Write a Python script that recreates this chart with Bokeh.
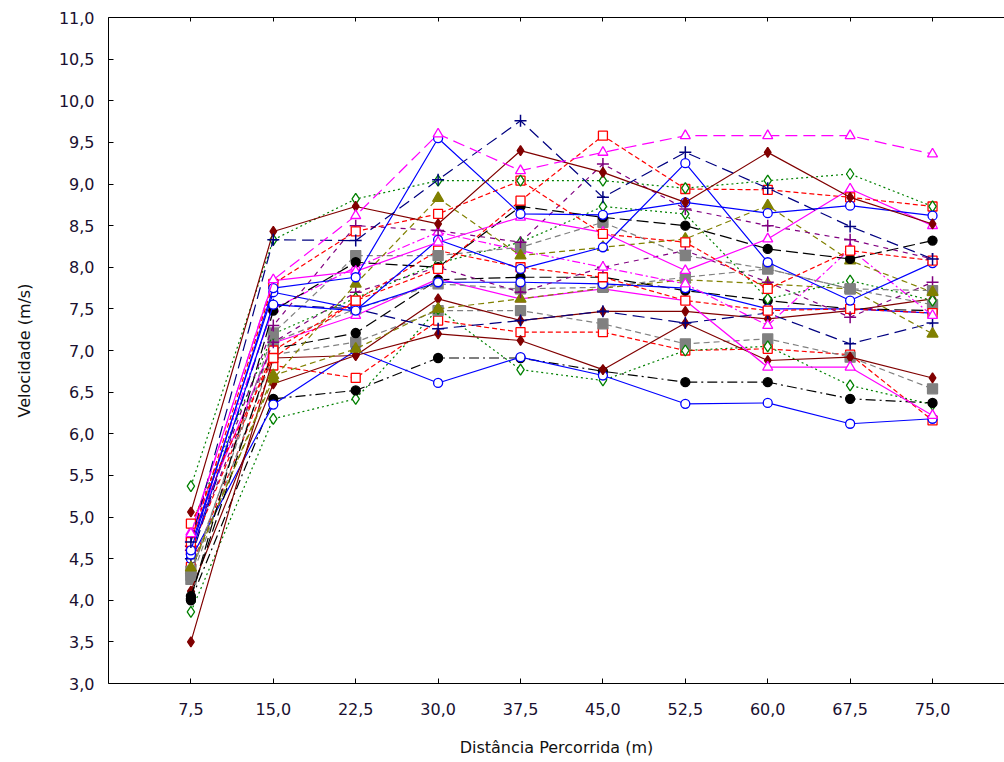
from bokeh.plotting import figure
from bokeh.models import FixedTicker, CustomJSTickFormatter, LinearAxis, Range1d, ColumnDataSource
from bokeh.embed import file_html
from bokeh.resources import INLINE

# ---- data ----
distance = [7.5, 15.0, 22.5, 30.0, 37.5, 45.0, 52.5, 60.0, 67.5, 75.0]
x_ticks = [7.5, 15.0, 22.5, 30.0, 37.5, 45.0, 52.5, 60.0, 67.5, 75.0]
y_ticks = [3.0, 3.5, 4.0, 4.5, 5.0, 5.5, 6.0, 6.5, 7.0, 7.5, 8.0, 8.5, 9.0, 9.5, 10.0, 10.5, 11.0]

magenta_1 = [4.80, 7.85, 8.62, 9.60, 9.16, 9.38, 9.58, 9.58, 9.58, 9.36]
magenta_2 = [4.82, 7.84, 7.95, 8.30, 8.60, 8.42, 7.96, 8.34, 8.94, 8.50]
magenta_3 = [4.75, 7.09, 7.42, 7.86, 7.62, 7.74, 7.60, 6.80, 6.80, 6.22]
magenta_4 = [4.78, 7.50, 8.00, 8.42, 8.20, 8.00, 7.80, 7.30, 8.22, 7.42]
navy_1 = [4.70, 8.33, 8.32, 9.05, 9.76, 8.84, 9.38, 8.95, 8.49, 8.10]
navy_2 = [4.50, 7.55, 7.50, 7.26, 7.36, 7.47, 7.33, 7.45, 7.08, 7.33]
darkred_1 = [5.06, 8.43, 8.73, 8.52, 9.40, 9.14, 8.78, 9.38, 8.84, 8.52]
darkred_2 = [4.11, 6.60, 6.94, 7.20, 7.12, 6.77, 7.33, 6.88, 6.92, 6.67]
darkred_3 = [3.50, 6.91, 6.94, 7.62, 7.36, 7.47, 7.47, 7.38, 7.48, 7.62]
blue_1 = [4.60, 7.75, 7.88, 9.55, 8.64, 8.63, 8.78, 8.65, 8.74, 8.62]
blue_2 = [4.55, 7.55, 7.48, 8.33, 7.98, 8.24, 9.25, 8.06, 7.60, 8.05]
blue_3 = [4.50, 6.35, 7.00, 6.61, 6.92, 6.70, 6.36, 6.37, 6.12, 6.18]
blue_4 = [4.65, 7.70, 7.50, 7.82, 7.82, 7.80, 7.75, 7.50, 7.50, 7.45]
black_1 = [4.02, 7.48, 8.06, 8.00, 8.73, 8.60, 8.50, 8.22, 8.10, 8.32]
black_2 = [4.05, 7.02, 7.21, 7.85, 7.88, 7.88, 7.72, 7.60, 7.50, 7.48]
black_3 = [4.00, 6.42, 6.52, 6.91, 6.91, 6.75, 6.62, 6.62, 6.42, 6.37]
green_1 = [5.37, 8.33, 8.82, 9.04, 9.04, 9.04, 8.95, 9.04, 9.12, 8.73]
green_2 = [3.86, 6.18, 6.42, 7.50, 6.77, 6.64, 7.00, 7.05, 6.58, 6.35]
green_3 = [4.90, 7.20, 7.63, 8.05, 8.30, 8.73, 8.64, 7.62, 7.84, 7.60]
red_1 = [4.92, 6.91, 7.60, 7.98, 8.80, 9.58, 8.94, 8.93, 8.84, 8.73]
red_2 = [4.70, 7.80, 8.43, 8.64, 9.04, 8.40, 8.30, 7.74, 8.20, 8.08]
red_3 = [4.40, 6.82, 6.67, 7.36, 7.22, 7.22, 7.00, 7.02, 6.95, 6.16]
red_4 = [4.60, 7.00, 7.60, 8.20, 8.00, 7.88, 7.60, 7.48, 7.50, 7.45]
gray_1 = [4.30, 7.21, 8.14, 8.14, 8.24, 8.54, 8.14, 7.98, 7.74, 7.72]
gray_2 = [4.25, 6.95, 7.10, 7.48, 7.48, 7.32, 7.08, 7.14, 6.92, 6.54]
gray_3 = [4.35, 7.10, 7.50, 7.80, 7.74, 7.76, 7.88, 7.98, 7.74, 7.55]
olive_1 = [4.39, 6.66, 7.80, 8.83, 8.14, 8.24, 8.34, 8.74, 8.08, 7.70]
olive_2 = [4.36, 6.70, 7.02, 7.50, 7.62, 7.75, 7.85, 7.80, 7.74, 7.20]
purple_1 = [4.65, 7.30, 8.50, 8.44, 8.30, 9.24, 8.70, 8.50, 8.33, 8.10]
purple_2 = [4.60, 7.10, 7.70, 8.00, 7.70, 8.00, 8.20, 7.82, 7.40, 7.82]

# (values, color, dash, marker, fill, size)
series = [
    (red_3, "#FF0000", "5 3", "square", "white", 9),
    (gray_2, "#808080", "6 4", "square", "#808080", 10),
    (green_2, "#008000", "2 3", "diamond", "white", 11),
    (black_3, "#000000", "10 4 2 4", "circle", "#000000", 9),
    (blue_3, "#0000FF", "solid", "circle", "white", 9),
    (darkred_2, "#800000", "solid", "diamond", "#800000", 10),
    (darkred_3, "#800000", "solid", "diamond", "#800000", 10),
    (navy_2, "#000080", "12 6", "cross", None, 12),
    (magenta_3, "#FF00FF", "solid", "triangle", "white", 10),
    (olive_2, "#808000", "6 4", "triangle", "#808000", 11),
    (black_2, "#000000", "12 5", "circle", "#000000", 9),
    (gray_3, "#808080", "6 4", "square", "#808080", 10),
    (blue_4, "#0000FF", "solid", "circle", "white", 9),
    (red_4, "#FF0000", "5 3", "square", "white", 9),
    (purple_2, "#800080", "5 5", "cross", None, 12),
    (magenta_4, "#FF00FF", "8 3 2 3", "triangle", "white", 10),
    (green_3, "#008000", "2 3", "diamond", "white", 11),
    (gray_1, "#808080", "6 4", "square", "#808080", 10),
    (olive_1, "#808000", "6 4", "triangle", "#808000", 11),
    (black_1, "#000000", "12 5", "circle", "#000000", 9),
    (blue_2, "#0000FF", "solid", "circle", "white", 9),
    (purple_1, "#800080", "5 5", "cross", None, 12),
    (magenta_2, "#FF00FF", "solid", "triangle", "white", 10),
    (red_2, "#FF0000", "5 3", "square", "white", 9),
    (red_1, "#FF0000", "5 3", "square", "white", 9),
    (green_1, "#008000", "2 3", "diamond", "white", 11),
    (blue_1, "#0000FF", "solid", "circle", "white", 9),
    (darkred_1, "#800000", "solid", "diamond", "#800000", 10),
    (navy_1, "#000080", "12 6", "cross", None, 12),
    (magenta_1, "#FF00FF", "12 6", "triangle", "white", 10),
]

p = figure(width=1004, height=762, x_range=Range1d(0, 81.55), y_range=Range1d(3, 11),
           output_backend="svg", toolbar_location=None,
           min_border_left=108, min_border_right=0, min_border_top=17, min_border_bottom=79,
           x_axis_label="Distância Percorrida (m)", y_axis_label="Velocidade (m/s)")
p.grid.visible = False
p.outline_line_color = None
p.background_fill_color = "white"
p.border_fill_color = "white"

fmt = CustomJSTickFormatter(code="return tick.toFixed(1).replace('.', ',');")

for ax in (p.xaxis[0], p.yaxis[0]):
    ax.formatter = fmt
    ax.major_tick_in = 5
    ax.major_tick_out = 0
    ax.minor_tick_line_color = None
    ax.axis_line_color = "black"
    ax.major_tick_line_color = "black"
    ax.major_label_text_font = "DejaVu Sans"
    ax.major_label_text_font_size = "16px"
    ax.major_label_text_color = "#1a1030"
    ax.axis_label_text_font = "DejaVu Sans"
    ax.axis_label_text_font_size = "16px"
    ax.axis_label_text_font_style = "normal"
    ax.axis_label_text_color = "#111111"

p.xaxis[0].ticker = FixedTicker(ticks=x_ticks)
p.yaxis[0].ticker = FixedTicker(ticks=y_ticks)
p.xaxis[0].major_label_standoff = 19
p.xaxis[0].axis_label_standoff = 20
p.yaxis[0].major_label_standoff = 14
p.yaxis[0].axis_label_standoff = 22

top = LinearAxis(ticker=FixedTicker(ticks=x_ticks), major_label_text_font_size="0px",
                 major_label_text_color=None, major_tick_in=4, major_tick_out=0,
                 minor_tick_line_color=None, axis_line_color="black", major_label_standoff=0)
p.add_layout(top, "above")

for vals, color, dash, marker, fill, size in series:
    src = ColumnDataSource(dict(x=distance, y=vals))
    p.line("x", "y", source=src, line_color=color, line_width=1.2, line_dash=dash)
    if marker == "cross":
        p.scatter("x", "y", source=src, marker="cross", size=size, line_color=color, line_width=1.5)
    else:
        p.scatter("x", "y", source=src, marker=marker, size=size, line_color=color,
                  fill_color=fill, line_width=1.3)

open("out.html", "w").write(file_html(p, INLINE))
